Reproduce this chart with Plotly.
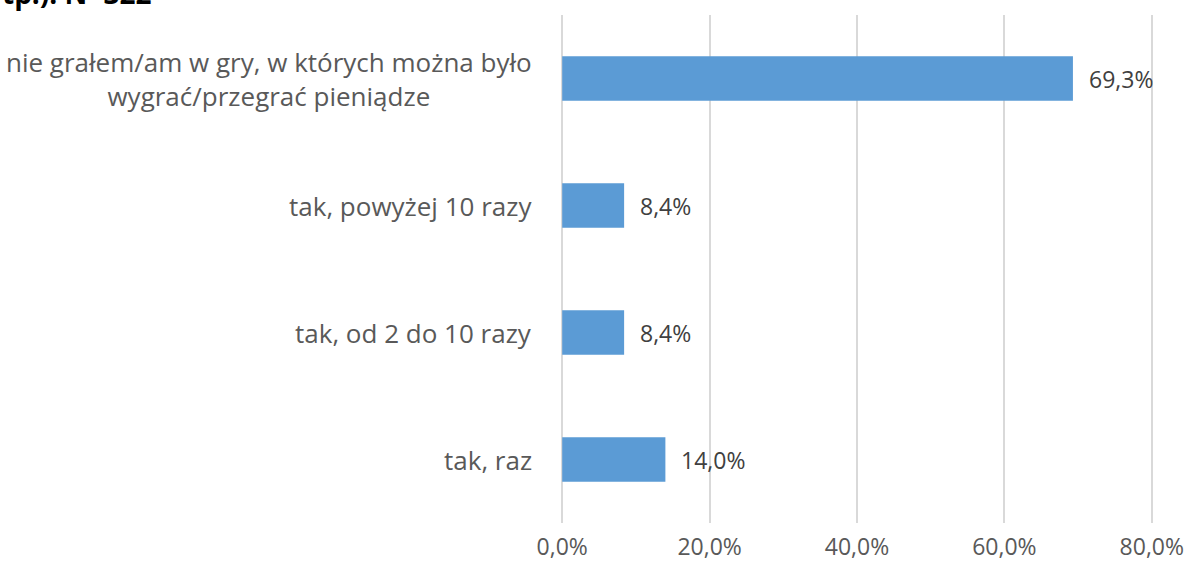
import plotly.graph_objects as go

categories = [
    "nie grałem/am w gry, w których można było<br>wygrać/przegrać pieniądze",
    "tak, powyżej 10 razy",
    "tak, od 2 do 10 razy",
    "tak, raz",
]
values = [69.3, 8.4, 8.4, 14.0]
value_labels = ["69,3%", "8,4%", "8,4%", "14,0%"]
tick_vals = [0, 20, 40, 60, 80]
tick_text = ["0,0%", "20,0%", "40,0%", "60,0%", "80,0%"]
title_text = "tp.). N=322"

FONT = "Open Sans"
CAT_SIZE = 26
NUM_SIZE = 23

fig = go.Figure()
fig.add_trace(go.Bar(
    y=categories, x=values, orientation="h",
    marker=dict(color="#5b9bd5", line=dict(width=0)),
    width=0.35,
    hoverinfo="skip",
))

for c, v, t in zip(categories, values, value_labels):
    fig.add_annotation(
        x=0, xref="x", y=c, yref="y", xanchor="right", xshift=-28,
        text=c, showarrow=False, align="center",
        font=dict(family=FONT, size=CAT_SIZE, color="#595959"),
    )
    fig.add_annotation(
        x=v, xref="x", y=c, yref="y", xanchor="left", xshift=14,
        text=t, showarrow=False,
        font=dict(family=FONT, size=NUM_SIZE, color="#404040"),
    )

fig.add_annotation(
    x=0, xref="paper", xshift=-560, y=1, yref="paper", yanchor="bottom", yshift=1,
    xanchor="left", text="<b>" + title_text + "</b>", showarrow=False,
    font=dict(family=FONT, size=28, color="#000000"),
)

fig.update_layout(
    width=1192, height=572,
    margin=dict(l=560, r=38, t=15, b=49, autoexpand=False),
    paper_bgcolor="white", plot_bgcolor="white",
    showlegend=False,
)
fig.update_xaxes(
    range=[-0.3, 80.3], tickvals=tick_vals, ticktext=tick_text,
    showgrid=True, gridcolor="#d9d9d9", gridwidth=1.5,
    zeroline=False, showline=False, ticks="",
    tickfont=dict(family=FONT, size=NUM_SIZE, color="#595959"),
    ticklabelstandoff=8, automargin=False,
)
fig.update_yaxes(
    autorange="reversed", showticklabels=False, showgrid=False,
    zeroline=False, showline=False, ticks="", automargin=False,
)

fig.write_html("out.html", config={"displayModeBar": False},
               post_script="document.body.style.margin='0';")
